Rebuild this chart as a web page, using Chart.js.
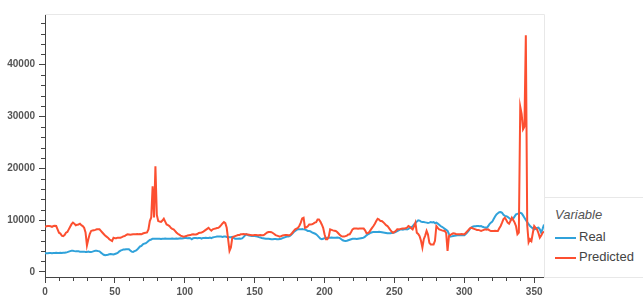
<!DOCTYPE html>
<html>
<head>
<meta charset="utf-8">
<script src="https://cdn.jsdelivr.net/npm/chart.js@4/dist/chart.umd.min.js"></script>
<style>
  body { margin: 0; background: #fff; }
  #wrap { position: relative; width: 643px; height: 304px; }
  #legend {
    position: absolute; left: 544px; top: 197px; width: 98px; height: 79px;
    border: 1px solid #e8e8e8; background: #fff;
    font-family: "Liberation Sans", Arial, sans-serif; font-size: 13px; color: #444;
  }
  #legend .title { position: absolute; left: 10px; top: 9px; font-style: italic; color: #555; }
  #legend .item { position: absolute; left: 10px; height: 16px; line-height: 16px; }
  #legend .swatch { display: inline-block; width: 21px; height: 2px; vertical-align: middle; margin-right: 3px; }
</style>
</head>
<body>
<div id="wrap">
  <canvas id="chart" width="643" height="304"></canvas>
  <div id="legend"></div>
</div>
<script>
// series values, one per row index 0..357
const realValues = [
  3600, 3600, 3600, 3650, 3650, 3600, 3650, 3650, 3700, 3650,
  3650, 3700, 3650, 3700, 3700, 3750, 3800, 3900, 4000, 4050,
  4050, 4000, 3950, 3950, 3950, 3900, 3900, 3900, 3900, 3850,
  3850, 3900, 3850, 3850, 3900, 4000, 4050, 4050, 4000, 3950,
  3700, 3500, 3300, 3200, 3250, 3300, 3400, 3450, 3400, 3350,
  3450, 3550, 3650, 3900, 4100, 4200, 4300, 4300, 4350, 4350,
  4350, 4100, 3900, 3850, 4000, 4100, 4300, 4600, 4900, 5000,
  5300, 5450, 5500, 5700, 5950, 6150, 6250, 6400, 6400, 6400,
  6400, 6400, 6400, 6350, 6400, 6400, 6450, 6400, 6400, 6400,
  6400, 6450, 6400, 6400, 6450, 6400, 6450, 6500, 6450, 6500,
  6550, 6550, 6500, 6550, 6500, 6300, 6500, 6550, 6550, 6500,
  6550, 6550, 6400, 6550, 6550, 6600, 6550, 6550, 6600, 6500,
  6650, 6700, 6750, 6800, 6800, 6800, 6800, 6750, 6800, 6800,
  6750, 6750, 6700, 6700, 6750, 6550, 6400, 6400, 6400, 6450,
  6400, 6450, 6700, 7000, 7250, 7100, 7000, 6950, 6900, 6900,
  6900, 6850, 6800, 6700, 6650, 6550, 6500, 6450, 6400, 6400,
  6400, 6350, 6300, 6300, 6350, 6350, 6300, 6300, 6350, 6400,
  6500, 6600, 6700, 6800, 6800, 6900, 7100, 7400, 7700, 7900,
  8100, 8200, 8200, 8200, 8250, 8200, 8150, 8050, 7900, 7900,
  7800, 7600, 7500, 7400, 7250, 7000, 6700, 6400, 6300, 6400,
  6500, 6550, 6600, 6600, 6600, 6650, 6600, 6600, 6600, 6650,
  6600, 6500, 6300, 6100, 6000, 5950, 6000, 6100, 6200, 6300,
  6400, 6400, 6400, 6350, 6400, 6450, 6500, 6550, 6600, 6800,
  7050, 7250, 7400, 7550, 7650, 7700, 7700, 7700, 7700, 7750,
  7700, 7650, 7600, 7550, 7500, 7450, 7450, 7450, 7500, 7550,
  7600, 7700, 7850, 8000, 8150, 8200, 8150, 8200, 8250, 8200,
  8300, 8500, 8600, 8800, 9150, 9400, 9700, 9950, 9900, 9700,
  9600, 9600, 9550, 9500, 9450, 9500, 9600, 9550, 9600, 9400,
  9500, 9300, 9100, 8850, 8700, 8500, 8300, 8100, 7900, 7300,
  6800, 6850, 6900, 6950, 7000, 7050, 7050, 7100, 7050, 7050,
  7050, 7300, 7600, 7900, 8300, 8550, 8700, 8800, 8800, 8850,
  8850, 8800, 8850, 8700, 8600, 8550, 8500, 8800, 9200, 9500,
  9700, 10200, 10700, 11100, 11300, 11500, 11550, 11400, 11000, 10800,
  10750, 10600, 10400, 10200, 10100, 10300, 10700, 11100, 11200, 11300,
  11400, 11300, 10900, 10450, 10000, 9600, 9200, 8850, 8600, 8400,
  8200, 8300, 8500, 8550, 8200, 7550, 8300, 9150
];

const predictedValues = [
  8700, 8800, 8850, 8850, 8800, 8700, 8850, 8900, 8850, 8200,
  7550, 7400, 7000, 6900, 7100, 7550, 7700, 8200, 8700, 9200,
  9500, 9300, 9000, 9100, 9150, 9300, 9000, 8850, 8500, 7600,
  5100, 6300, 7300, 7900, 8000, 8050, 8100, 8200, 8200, 8200,
  7900, 7600, 7300, 7000, 6800, 6600, 6300, 6100, 5950, 6600,
  6500, 6500, 6600, 6600, 6600, 6700, 6850, 6900, 7100, 7250,
  7200, 7150, 7200, 7250, 7250, 7250, 7300, 7250, 7300, 7250,
  7400, 7500, 7550, 7600, 8200, 9800, 10500, 16500, 10500, 20400,
  11000, 9800, 9700, 9650, 9900, 10250, 9700, 9150, 9000, 8850,
  8500, 8300, 8200, 7900, 7600, 7350, 7200, 7000, 6900, 6800,
  6850, 6900, 7000, 7050, 7100, 7200, 7250, 7200, 7200, 7300,
  7500, 7550, 7600, 7700, 7900, 8100, 8300, 8500, 8200, 7950,
  8200, 8300, 8350, 8450, 8500, 8700, 9000, 9350, 9600, 9400,
  8500, 6300, 4050, 4700, 6600, 6800, 6900, 7000, 7100, 7100,
  7250, 7250, 7300, 7250, 7250, 7200, 7150, 7100, 7050, 7050,
  7100, 7100, 7050, 7050, 7100, 7050, 7050, 7200, 7400, 7600,
  7700, 7700, 7650, 7500, 7300, 7100, 7000, 6900, 6800, 6900,
  7000, 7050, 7100, 7100, 7050, 7050, 7250, 7550, 7900, 8200,
  8350, 8500, 8900, 9500, 10300, 10450, 8500, 8600, 8800, 9150,
  9150, 9200, 9300, 9500, 9600, 10100, 10100, 9700, 9150, 8500,
  7250, 6300, 6300, 6800, 8200, 8100, 8000, 7950, 7900, 7700,
  7400, 7100, 6900, 6800, 6800, 6900, 7000, 7200, 7250, 7700,
  8200, 8350, 8350, 8350, 8300, 8350, 8350, 8350, 8350, 8000,
  7450, 7500, 7700, 8100, 8500, 8850, 9300, 9800, 10250, 10100,
  9800, 9800, 9600, 9300, 9000, 8850, 8500, 8100, 7800, 7550,
  7700, 7900, 8200, 8200, 8250, 8300, 8350, 8350, 8400, 8550,
  8850, 8700, 8400, 8200, 8800, 9500, 7550, 7300, 6900, 6000,
  4700, 6300, 7000, 7900, 7200, 5600, 5300, 5300, 5300, 6000,
  8850, 8500, 8200, 8100, 8000, 7950, 7900, 7500, 4050, 6900,
  7100, 7300, 7450, 7400, 7300, 7250, 7250, 7250, 7300, 7250,
  7250, 7500, 7800, 8100, 8400, 8550, 8400, 8300, 8200, 8100,
  8100, 8000, 7900, 8000, 8100, 8200, 8150, 8200, 8000, 7900,
  7900, 7900, 7950, 7900, 7900, 8400, 8850, 9500, 10200, 10450,
  10000, 9500, 9300, 9800, 10450, 10000, 9500, 8800, 7250, 7550,
  31900, 30500, 27500, 28000, 45700, 9000, 5700, 6300, 5950, 7500,
  8850, 8500, 8200, 7500, 6600, 7000, 7550, 7800
];

const seriesNames = ['Real', 'Predicted'];
const seriesColors = ['#30a2da', '#fc4f30'];
const legendTitle = 'Variable';

// tick marks
const xTickValues = [0, 50, 100, 150, 200, 250, 300, 350];
const yTickValues = [0, 10000, 20000, 30000, 40000];

const axisColor = '#444';
const labelFont = { family: '"Liberation Sans", Arial, sans-serif', size: 10, weight: 'bold' };

function toPoints(values) {
  return values.map((v, i) => ({ x: i, y: v }));
}

// light outline on top/right plus short minor ticks, bokeh style
const frameAndMinorTicks = {
  id: 'frameAndMinorTicks',
  beforeDatasetsDraw(chart) {
    const { ctx, chartArea: a } = chart;
    ctx.save();
    ctx.strokeStyle = '#e8e8e8';
    ctx.lineWidth = 1;
    ctx.beginPath();
    ctx.moveTo(a.left, a.top + 0.5);
    ctx.lineTo(a.right + 0.5, a.top + 0.5);
    ctx.lineTo(a.right + 0.5, a.bottom);
    ctx.stroke();
    ctx.restore();
  },
  afterDraw(chart) {
    const { ctx, chartArea: a, scales } = chart;
    ctx.save();
    ctx.strokeStyle = axisColor;
    ctx.lineWidth = 1;
    ctx.beginPath();
    for (let v = 0; v <= scales.y.max; v += 2000) {
      if (v % 10000 === 0) continue;
      const py = Math.round(scales.y.getPixelForValue(v)) + 0.5;
      ctx.moveTo(a.left, py);
      ctx.lineTo(a.left - 4, py);
    }
    for (let v = 0; v <= scales.x.max; v += 10) {
      if (v % 50 === 0) continue;
      const px = Math.round(scales.x.getPixelForValue(v)) + 0.5;
      ctx.moveTo(px, a.bottom);
      ctx.lineTo(px, a.bottom + 4);
    }
    ctx.stroke();
    ctx.restore();
  }
};

const chart = new Chart(document.getElementById('chart'), {
  type: 'line',
  data: {
    datasets: [
      {
        label: seriesNames[0],
        data: toPoints(realValues),
        borderColor: seriesColors[0],
        backgroundColor: seriesColors[0],
        borderWidth: 2,
        pointRadius: 0,
        order: 1,
      },
      {
        label: seriesNames[1],
        data: toPoints(predictedValues),
        borderColor: seriesColors[1],
        backgroundColor: seriesColors[1],
        borderWidth: 2,
        pointRadius: 0,
        order: 0,
      },
    ],
  },
  options: {
    responsive: false,
    animation: false,
    layout: { padding: { top: 14, right: 99, left: 0, bottom: 0 } },
    plugins: {
      legend: { display: false },
      tooltip: { enabled: false },
    },
    scales: {
      x: {
        type: 'linear',
        min: 0,
        max: realValues.length - 1,
        afterFit(scale) { scale.height = 27; },
        afterBuildTicks(scale) { scale.ticks = xTickValues.map((v) => ({ value: v })); },
        grid: { drawOnChartArea: false, tickLength: 6, tickColor: axisColor },
        border: { color: axisColor, width: 1 },
        ticks: {
          autoSkip: false,
          maxRotation: 0,
          padding: 3,
          color: '#555',
          font: labelFont,
        },
      },
      y: {
        min: -1000,
        max: 49800,
        afterFit(scale) { scale.width = 45; },
        afterBuildTicks(scale) { scale.ticks = yTickValues.map((v) => ({ value: v })); },
        grid: { drawOnChartArea: false, tickLength: 6, tickColor: axisColor },
        border: { color: axisColor, width: 1 },
        ticks: {
          autoSkip: false,
          padding: 4,
          color: '#555',
          font: labelFont,
          callback: (v) => String(v),
        },
      },
    },
  },
  plugins: [frameAndMinorTicks],
});

// legend box at the lower right
const legendEl = document.getElementById('legend');
const titleEl = document.createElement('div');
titleEl.className = 'title';
titleEl.textContent = legendTitle;
legendEl.appendChild(titleEl);
seriesNames.forEach((name, i) => {
  const item = document.createElement('div');
  item.className = 'item';
  item.style.top = (31 + i * 20) + 'px';
  const sw = document.createElement('span');
  sw.className = 'swatch';
  sw.style.background = seriesColors[i];
  item.appendChild(sw);
  item.appendChild(document.createTextNode(name));
  legendEl.appendChild(item);
});
</script>
</body>
</html>
